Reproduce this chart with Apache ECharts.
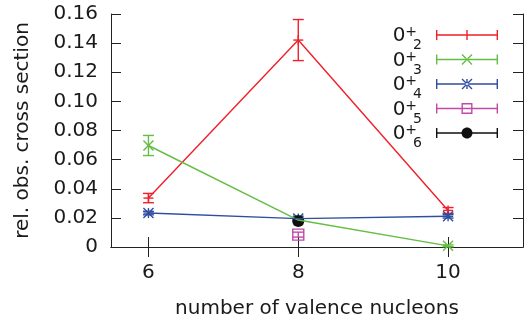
<!DOCTYPE html>
<html>
<head>
<meta charset="utf-8">
<script src="https://cdn.jsdelivr.net/npm/echarts@6/dist/echarts.min.js"></script>
<style>
  html, body { margin: 0; padding: 0; background: #fff; }
  #chart { width: 529px; height: 320px; }
</style>
</head>
<body>
<div id="chart"></div>
<script>
// data
var valence = [6, 8, 10];
var xTicks = [6, 8, 10];

var state2 = [0.0336, 0.1421, 0.0251];
var state2Err = [0.0032, 0.0141, 0.0020];
var state3 = [0.0697, 0.0185, 0.0008];
var state3Err = [0.0069, 0.0008, 0.0006];
var state4 = [0.0233, 0.0195, 0.0211];
var state4Err = [0.0012, 0.0012, 0.0012];
var state5X = [8];
var state5 = [0.0085];
var state5Err = [0.0017];
var state6X = [8];
var state6 = [0.0178];
var state6Err = [0.0008];

var FONT = 'DejaVu Sans';
var TXT = '#1a1a1a';
var LW = 1.4;

var states = [
    {sub: '2', color: '#f0202a', marker: 'plus', x: valence, y: state2, err: state2Err, line: true},
    {sub: '3', color: '#66bd45', marker: 'cross', x: valence, y: state3, err: state3Err, line: true},
    {sub: '4', color: '#2f4ea0', marker: 'star', x: valence, y: state4, err: state4Err, line: true},
    {sub: '5', color: '#c24aa6', marker: 'square', x: state5X, y: state5, err: state5Err, line: false},
    {sub: '6', color: '#111111', marker: 'circle', x: state6X, y: state6, err: state6Err, line: false}
];

// ---- legend icon paths (filled shapes, 62 x 11 box) ----
function rectPath(x, y, w, h) {
    return 'M' + x + ' ' + y + 'h' + w + 'v' + h + 'h' + (-w) + 'Z';
}
function holePath(x, y, w, h) {
    return 'M' + x + ' ' + y + 'v' + h + 'h' + w + 'v' + (-h) + 'Z';
}
function segPath(x1, y1, x2, y2, t) {
    var dx = x2 - x1, dy = y2 - y1;
    var len = Math.sqrt(dx * dx + dy * dy);
    var nx = -dy / len * t / 2, ny = dx / len * t / 2;
    return 'M' + (x1 + nx) + ' ' + (y1 + ny) + 'L' + (x2 + nx) + ' ' + (y2 + ny) +
        'L' + (x2 - nx) + ' ' + (y2 - ny) + 'L' + (x1 - nx) + ' ' + (y1 - ny) + 'Z';
}
function legendIcon(marker) {
    var W = 62, H = 11, cx = 31, cy = 5.5, t = 1.4, s = 5;
    var p = 'M0 0L0.01 0L0 0.01Z M' + W + ' ' + H + 'L' + (W - 0.01) + ' ' + H + 'L' + W + ' ' + (H - 0.01) + 'Z';
    p += rectPath(0, cy - t / 2, W, t);
    p += rectPath(0, 0.5, t, 10);
    p += rectPath(W - t, 0.5, t, 10);
    if (marker === 'plus' || marker === 'star') {
        p += rectPath(cx - t / 2, cy - s, t, 2 * s);
    }
    if (marker === 'cross' || marker === 'star') {
        p += segPath(cx - s, cy - s, cx + s, cy + s, t);
        p += segPath(cx - s, cy + s, cx + s, cy - s, t);
    }
    if (marker === 'square') {
        p += rectPath(cx - 5.5, cy - 5.5, 11, 11);
        p += holePath(cx - 5.5 + t, cy - 5.5 + t, 11 - 2 * t, 11 - 2 * t);
    }
    if (marker === 'circle') {
        var pts = [];
        for (var i = 0; i < 32; i++) {
            var a = i / 32 * Math.PI * 2;
            pts.push((cx + 5.5 * Math.cos(a)).toFixed(2) + ' ' + (cy + 5.5 * Math.sin(a)).toFixed(2));
        }
        p += 'M' + pts.join('L') + 'Z';
    }
    return 'path://' + p;
}

// ---- error bars + point markers ----
function makeRender(marker, color) {
    return function (params, api) {
        var x = api.value(0), y = api.value(1), e = api.value(2);
        var c = api.coord([x, y]);
        var lo = api.coord([x, y - e]);
        var hi = api.coord([x, y + e]);
        var cap = 5.5, s = 5;
        var st = {stroke: color, lineWidth: LW, fill: 'none'};
        var kids = [
            {type: 'line', shape: {x1: c[0], y1: lo[1], x2: c[0], y2: hi[1]}, style: st},
            {type: 'line', shape: {x1: c[0] - cap, y1: lo[1], x2: c[0] + cap, y2: lo[1]}, style: st},
            {type: 'line', shape: {x1: c[0] - cap, y1: hi[1], x2: c[0] + cap, y2: hi[1]}, style: st}
        ];
        if (marker === 'plus' || marker === 'star') {
            kids.push({type: 'line', shape: {x1: c[0] - s, y1: c[1], x2: c[0] + s, y2: c[1]}, style: st});
            kids.push({type: 'line', shape: {x1: c[0], y1: c[1] - s, x2: c[0], y2: c[1] + s}, style: st});
        }
        if (marker === 'cross' || marker === 'star') {
            kids.push({type: 'line', shape: {x1: c[0] - s, y1: c[1] - s, x2: c[0] + s, y2: c[1] + s}, style: st});
            kids.push({type: 'line', shape: {x1: c[0] - s, y1: c[1] + s, x2: c[0] + s, y2: c[1] - s}, style: st});
        }
        if (marker === 'square') {
            kids.push({type: 'rect', shape: {x: c[0] - 5.5, y: c[1] - 5.5, width: 11, height: 11}, style: st});
        }
        if (marker === 'circle') {
            kids.push({type: 'circle', shape: {cx: c[0], cy: c[1], r: 6}, style: {fill: color}});
        }
        return {type: 'group', children: kids};
    };
}

var series = [];
var legendData = [];
states.forEach(function (st) {
    var name = '0+' + st.sub;
    legendData.push({name: name, icon: legendIcon(st.marker)});
    if (st.line) {
        series.push({
            name: name,
            type: 'line',
            data: st.x.map(function (x, i) { return [x, st.y[i]]; }),
            symbol: 'none',
            color: st.color,
            lineStyle: {color: st.color, width: LW},
            silent: true,
            animation: false
        });
    }
    series.push({
        name: name,
        type: 'custom',
        data: st.x.map(function (x, i) { return [x, st.y[i], st.err[i]]; }),
        encode: {x: 0, y: 1},
        itemStyle: {color: st.color},
        renderItem: makeRender(st.marker, st.color),
        silent: true,
        animation: false
    });
});

var tickStyle = {show: true, inside: true, length: 10, lineStyle: {color: '#222', width: 1}};

var chart = echarts.init(document.getElementById('chart'), null, {renderer: 'canvas'});
chart.setOption({
    animation: false,
    grid: {left: 111, right: 6, top: 14, bottom: 73, outerBoundsMode: 'none'},
    legend: {
        orient: 'vertical',
        right: 31,
        top: 17.5,
        padding: 0,
        align: 'right',
        itemWidth: 62,
        itemHeight: 11,
        itemGap: -10.5,
        selectedMode: false,
        itemStyle: {borderWidth: 0},
        data: legendData,
        formatter: function (name) {
            return '{z|0}{sup|+}{sub|' + name.slice(2) + '}';
        },
        textStyle: {
            fontFamily: FONT,
            color: TXT,
            rich: {
                z: {fontFamily: FONT, fontSize: 20, lineHeight: 20, color: TXT, padding: [2, 0, 0, 0]},
                sup: {fontFamily: FONT, fontSize: 14, lineHeight: 14, color: TXT, padding: [0, 0, 5, 0]},
                sub: {fontFamily: FONT, fontSize: 14, lineHeight: 14, color: TXT, padding: [21, 9, 0, -4]}
            }
        }
    },
    xAxis: [{
        type: 'value',
        min: 5.5,
        max: 11,
        name: 'number of valence nucleons',
        nameLocation: 'middle',
        nameGap: 52,
        nameTextStyle: {fontFamily: FONT, fontSize: 20, color: TXT},
        axisLine: {lineStyle: {color: '#222', width: 1}},
        axisTick: Object.assign({customValues: xTicks}, tickStyle),
        axisLabel: {customValues: xTicks, margin: 16, fontFamily: FONT, fontSize: 20, color: TXT},
        splitLine: {show: false}
    }, {
        type: 'value',
        position: 'top',
        min: 5.5,
        max: 11,
        axisLine: {show: true, lineStyle: {color: '#222', width: 1}},
        axisTick: Object.assign({customValues: xTicks}, tickStyle),
        axisLabel: {show: false},
        splitLine: {show: false}
    }],
    yAxis: [{
        type: 'value',
        min: 0,
        max: 0.16,
        interval: 0.02,
        name: 'rel. obs. cross section',
        nameLocation: 'middle',
        nameGap: 78,
        nameTextStyle: {fontFamily: FONT, fontSize: 20, color: TXT},
        axisLine: {show: true, lineStyle: {color: '#222', width: 1}},
        axisTick: tickStyle,
        axisLabel: {
            margin: 13, fontFamily: FONT, fontSize: 20, color: TXT,
            formatter: function (v) { return v === 0 ? '0' : v.toFixed(2); }
        },
        splitLine: {show: false}
    }, {
        type: 'value',
        position: 'right',
        min: 0,
        max: 0.16,
        interval: 0.02,
        axisLine: {show: true, lineStyle: {color: '#222', width: 1}},
        axisTick: tickStyle,
        axisLabel: {show: false},
        splitLine: {show: false}
    }],
    series: series
});
</script>
</body>
</html>
